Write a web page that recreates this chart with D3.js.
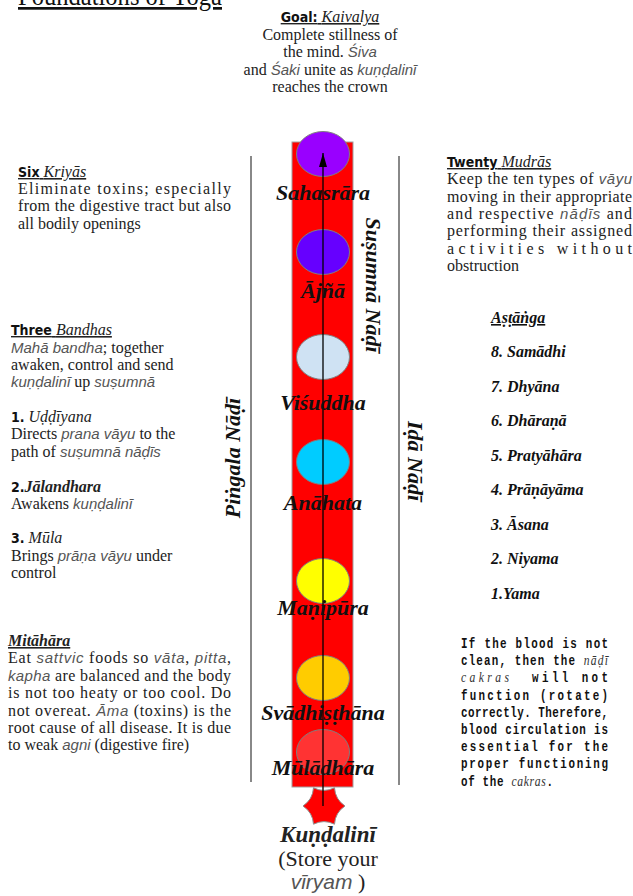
<!DOCTYPE html>
<html><head><meta charset="utf-8">
<script src="https://cdn.jsdelivr.net/npm/d3@7"></script>
<style>
body{margin:0;background:#fff;overflow:hidden}
svg text{font-family:"Liberation Serif",serif;font-size:16px;fill:#222}
svg .gi{font-family:"Liberation Sans",sans-serif;font-style:italic;fill:#555;font-size:15px}
svg .si{font-style:italic}
svg .sbi{font-style:italic;font-weight:bold}
svg .hb{font-family:"DejaVu Sans Condensed","Liberation Sans Narrow","Liberation Sans",sans-serif;font-weight:bold;font-size:14px;fill:#111}
svg .mono{font-family:"Liberation Mono",monospace;font-weight:bold;font-size:14.5px;fill:#111}
svg .mono tspan.si{font-family:"Liberation Serif",serif;font-weight:normal;font-size:15.5px;fill:#333}
svg .chak{font-style:italic;font-weight:bold;font-size:22px;fill:#111}
svg .ash{font-style:italic;font-weight:bold;font-size:16px;fill:#111}
svg .ul{text-decoration:underline}
</style></head><body>
<svg id="c" width="633" height="896"></svg>
<script>
// ---------- data ----------
const chakras = ["Sahasrāra","Ājñā","Viśuddha","Anāhata","Maṇipūra","Svādhiṣṭhāna","Mūlādhāra"];
const chakraColors = ["#9900ff","#6600ff","#cfe2f3","#00ccff","#ffff00","#ffcc00","#ff3333"];
const ashtanga = ["8. Samādhi","7. Dhyāna","6. Dhāraṇā","5. Pratyāhāra","4. Prāṇāyāma","3. Āsana","2. Niyama","1.Yama"];
const nadis = ["Piṅgala Nāḍī","Suṣumnā Nāḍī","Iḍā Nāḍī"];
const titleText = "Foundations of Yoga";
const goalLines = ["<Goal:> [Kaivalya]","Complete stillness of","the mind. {Śiva}","and {Śaki} unite as {kuṇḍalinī}","reaches the crown"];
const kriyaLines = ["<Six> [Kriyās]","Eliminate toxins; especially","from the digestive tract but also","all bodily openings"];
const bandhaLines = ["<Three> [Bandhas]","{Mahā bandha}; together","awaken, control and send","{kuṇḍalinī} up {suṣumnā}","","<1.> [Uḍḍīyana]","Directs {prana vāyu} to the","path of {suṣumnā nāḍīs}","","<2.>^Jālandhara^","Awakens {kuṇḍalinī}","","<3.> [Mūla]","Brings {prāṇa vāyu} under","control"];
const mitaharaLines = ["^Mitāhāra^","Eat {sattvic} foods so {vāta}, {pitta},","{kapha} are balanced and the body","is not too heaty or too cool. Do","not overeat. {Āma} (toxins) is the","root cause of all disease. It is due","to weak {agni} (digestive fire)"];
const mudraLines = ["<Twenty> [Mudrās]","Keep the ten types of {vāyu}","moving in their appropriate","and respective {nāḍīs} and","performing their assigned","activities without","obstruction"];
const bloodLines = ["If the blood is not","clean, then the [nāḍī]","[cakras]  will not","function (rotate)","correctly. Therefore,","blood circulation is","essential for the","proper functioning","of the [cakras]."];
const kundaliniLines = ["^Kuṇḍalinī^","(Store your","{vīryam} )"];

// ---------- layout ----------
const chakraCy = [154,252,357,462,581,678,752];
const chakraLabelY = [200,298,410,510,615,720,775];
const svg = d3.select("#c");

const yChakra = d3.scaleOrdinal().domain(chakras).range(chakraCy);
const yChakraLabel = d3.scaleOrdinal().domain(chakras).range(chakraLabelY);
const yAsh = d3.scalePoint().domain(ashtanga).range([357,599]);
const colorChakra = d3.scaleOrdinal().domain(chakras).range(chakraColors);
const cx = 323;

function addSegs(t, s){
  const parts = s.split(/(\{[^}]*\}|\[[^\]]*\]|<[^>]*>|\^[^^]*\^)/).filter(p=>p!=="");
  parts.forEach(p=>{
    let cls=null, txt=p;
    if(p[0]==="{"){cls="gi";txt=p.slice(1,-1);}
    else if(p[0]==="["){cls="si";txt=p.slice(1,-1);}
    else if(p[0]==="<"){cls="hb";txt=p.slice(1,-1);}
    else if(p[0]==="^"){cls="sbi";txt=p.slice(1,-1);}
    const ts=t.append("tspan").text(txt);
    if(cls) ts.attr("class",cls);
  });
}
function fit(t, w){
  const nat = t.node().getComputedTextLength();
  t.attr("textLength",w).attr("lengthAdjust", nat > w ? "spacingAndGlyphs" : "spacing");
}
function block(lines, o){
  const g = svg.append("g");
  let x0 = o.x, sx = o.sx || 1;
  if(o.sx){ g.attr("transform",`translate(${o.x},0) scale(${sx},1)`); x0 = 0; }
  lines.forEach((s,i)=>{
    if(s==="") return;
    const t = g.append("text").attr("x",x0).attr("y",o.ys? o.ys[i] : o.y+i*o.lh)
      .attr("xml:space","preserve");
    if(o.cls) t.attr("class",o.cls);
    if(o.anchor) t.attr("text-anchor",o.anchor);
    if(o.head && i===0) t.classed("ul",true);
    addSegs(t,s);
    if(o.just && o.just(i)) fit(t,o.width/sx);
    if(o.lastW && i===lines.length-1) fit(t,o.lastW/sx);
  });
  return g;
}

// title
svg.append("text").attr("x",18).attr("y",5).attr("class","ul")
  .attr("textLength",204).attr("lengthAdjust","spacingAndGlyphs")
  .style("font-size","27px").style("fill","#111").text(titleText);

// goal
block(goalLines,{x:330,y:22,lh:17.5,anchor:"middle",head:true});

// nadi lines
svg.append("line").attr("x1",251).attr("x2",251).attr("y1",156).attr("y2",782).attr("stroke","#888").attr("stroke-width",2);
svg.append("line").attr("x1",399).attr("x2",399).attr("y1",156).attr("y2",785).attr("stroke","#888").attr("stroke-width",2);

// susumna column
svg.append("rect").attr("x",292).attr("y",142).attr("width",61).attr("height",645)
  .attr("fill","#ff0000").attr("stroke","#a0a0a0").attr("stroke-width",1);

// chakras
svg.append("g").selectAll("ellipse").data(chakras).join("ellipse")
  .attr("cx",cx).attr("cy",d=>yChakra(d)).attr("rx",26.5).attr("ry",22.5)
  .attr("fill",d=>colorChakra(d)).attr("stroke","#808080").attr("stroke-width",1);

// star (kundalini)
const star = d3.path(); const sc=[324,806], R=21, rc=0.62*R;
for(let k=0;k<6;k++){
  const a0=k*Math.PI/3, a1=(k+1)*Math.PI/3, am=(a0+a1)/2;
  const p0=[sc[0]+R*Math.cos(a0), sc[1]+R*Math.sin(a0)];
  const p1=[sc[0]+R*Math.cos(a1), sc[1]+R*Math.sin(a1)];
  if(k===0) star.moveTo(p0[0],p0[1]);
  star.quadraticCurveTo(sc[0]+rc*Math.cos(am), sc[1]+rc*Math.sin(am), p1[0], p1[1]);
}
star.closePath();
svg.append("path").attr("d",star.toString()).attr("fill","#ff0000").attr("stroke","#909090").attr("stroke-width",1);

// arrow
svg.append("defs").append("marker").attr("id","ah").attr("viewBox","0 0 14 8")
  .attr("refX",14).attr("refY",4).attr("markerWidth",14).attr("markerHeight",8)
  .attr("markerUnits","userSpaceOnUse").attr("orient","auto")
  .append("path").attr("d","M0,0L14,4L0,8z").attr("fill","#000");
svg.append("line").attr("x1",cx).attr("x2",cx).attr("y1",806).attr("y2",153)
  .attr("stroke","#000").attr("stroke-width",1.3).attr("marker-end","url(#ah)");

// chakra labels
svg.append("g").selectAll("text").data(chakras).join("text").attr("class","chak")
  .attr("x",cx).attr("y",d=>yChakraLabel(d)).attr("text-anchor","middle").text(d=>d);

// nadi labels
const nadiPos = [[240,458,-90],[366,285,90],[408,461,90]];
svg.append("g").selectAll("text").data(nadis).join("text").attr("class","chak")
  .attr("text-anchor","middle")
  .attr("transform",(d,i)=>`translate(${nadiPos[i][0]},${nadiPos[i][1]}) rotate(${nadiPos[i][2]})`)
  .text(d=>d);

// left blocks
block(kriyaLines,{x:18,ys:[177,194,211,229],head:true,width:213,just:i=>i===1||i===2});
block(bandhaLines,{x:11,ys:[335,353,370,387,0,422,439,457,0,492,509,0,543,561,578],head:true});
block(mitaharaLines,{x:8,y:646,lh:17.4,head:true,width:223,just:i=>i>0&&i<6});

// right blocks
block(mudraLines,{x:447,y:167,lh:17.3,head:true,width:185,just:i=>i>0&&i<6});
svg.append("text").attr("class","ash ul").attr("x",491).attr("y",323).text("Aṣṭāṅga");
svg.append("g").selectAll("text").data(ashtanga).join("text").attr("class","ash")
  .attr("x",491).attr("y",d=>yAsh(d)).text(d=>d);
block(bloodLines,{x:461,y:648,lh:17.2,cls:"mono",width:147,just:i=>i<8,lastW:92,sx:0.75});

// kundalini
const kg = block(kundaliniLines,{x:328,ys:[842,866,889],anchor:"middle"});
kg.selectAll("text").style("font-size","22px");
kg.selectAll("text").filter((d,i)=>i===0).select("tspan").style("font-size","23px");
kg.selectAll("text").filter((d,i)=>i===2).select("tspan").style("font-size","21px");
</script>
</body></html>
